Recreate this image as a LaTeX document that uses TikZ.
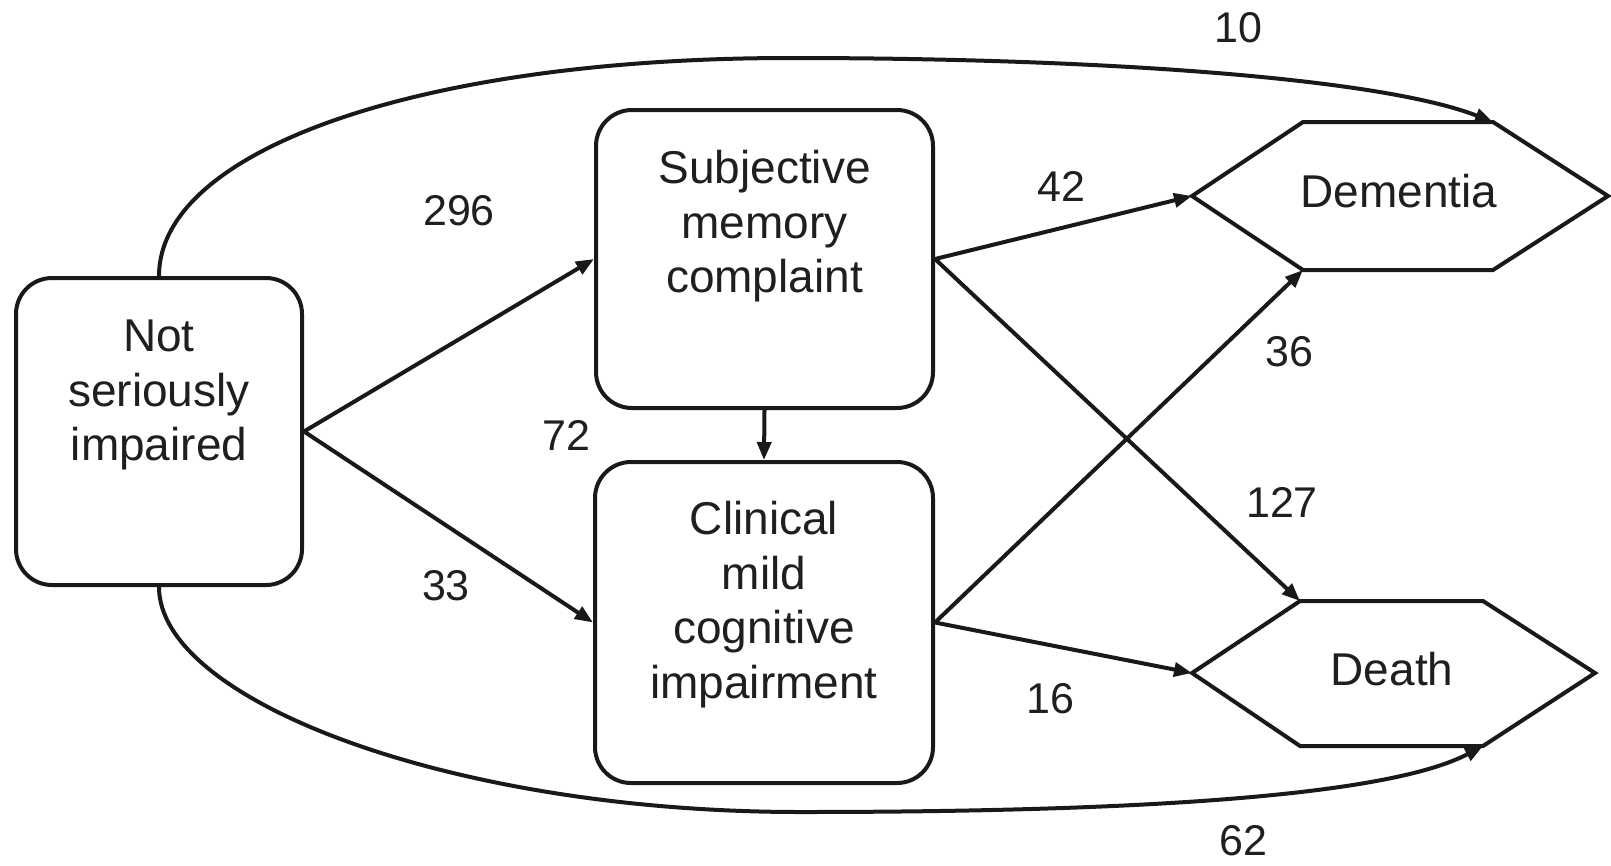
\documentclass[tikz,border=0pt]{standalone}
\usepackage{fontspec}
\setmainfont{Liberation Sans}
\usetikzlibrary{arrows.meta}
\begin{document}
\begin{tikzpicture}[x=1pt,y=-1pt,
  lw/.style={line width=4pt},
  box/.style={draw=black!90, lw, rounded corners=36pt, inner sep=0pt},
  txt/.style={align=center, font=\fontsize{46}{54.5}\selectfont, inner sep=0pt, text=black!88},
  num/.style={font=\fontsize{43}{50}\selectfont, inner sep=0pt, text=black!88},
  arr/.style={draw=black!90, lw, -{Triangle[length=18pt,width=14pt]}},
  hex/.style={draw=black!90, lw, line join=miter}
]
\useasboundingbox (0,0) rectangle (1611,865);

% boxes
\node[box, minimum width=286pt, minimum height=307pt] (nsi) at (159,431.5) {};
\node[box, minimum width=337pt, minimum height=298pt] (smc) at (764.5,259) {};
\node[box, minimum width=338pt, minimum height=321pt] (cmci) at (764,622.5) {};

\node[txt, anchor=north] (nsit) at (159,320) {Not\\seriously\\impaired};
\node[txt, anchor=north] (smct) at (764.5,150) {Subjective\\memory\\complaint};
\node[txt, anchor=north] (cmcit) at (764,501) {Clinical\\mild\\cognitive\\impairment};

% hexagons
\draw[hex] (1192,196) coordinate (demL) -- (1303,122) coordinate (demTL)
  -- (1493,122) coordinate (demTR) -- (1608,196) coordinate (demR)
  -- (1493,270) coordinate (demBR) -- (1303,270) coordinate (demBL) -- cycle;
\node[txt] (dem) at (1399,191.5) {Dementia};

\draw[hex] (1192,673) coordinate (deaL) -- (1300,601) coordinate (deaTL)
  -- (1483,601) coordinate (deaTR) -- (1595,673) coordinate (deaR)
  -- (1483,746) coordinate (deaBR) -- (1300,746) coordinate (deaBL) -- cycle;
\node[txt] (dea) at (1392,669) {Death};

% connectors
\draw[arr] (nsi.east) -- (smc.west);
\draw[arr] (nsi.east) -- (cmci.west);
\draw[arr] (smc.south) -- (cmci.north);
\draw[arr] (smc.east) -- (demL);
\draw[arr] (smc.east) -- (deaTL);
\draw[arr] (cmci.east) -- (demBL);
\draw[arr] (cmci.east) -- (deaL);
\draw[arr] (nsi.north) .. controls (159,150) and (420,58) .. (790,58)
  .. controls (1100,58) and (1380,78) .. (demTR);
\draw[arr] (nsi.south) .. controls (159,700) and (450,812) .. (800,812)
  .. controls (1150,812) and (1390,795) .. (deaBR);

% labels
\node[num] (l10) at (1238,28) {10};
\node[num] (l296) at (459,211) {296};
\node[num] (l42) at (1061,186) {42};
\node[num] (l36) at (1289,352) {36};
\node[num] (l72) at (566,435) {72};
\node[num] (l127) at (1282,502) {127};
\node[num] (l33) at (446,586) {33};
\node[num] (l16) at (1050,699) {16};
\node[num] (l62) at (1243,841) {62};
\end{tikzpicture}
\end{document}
